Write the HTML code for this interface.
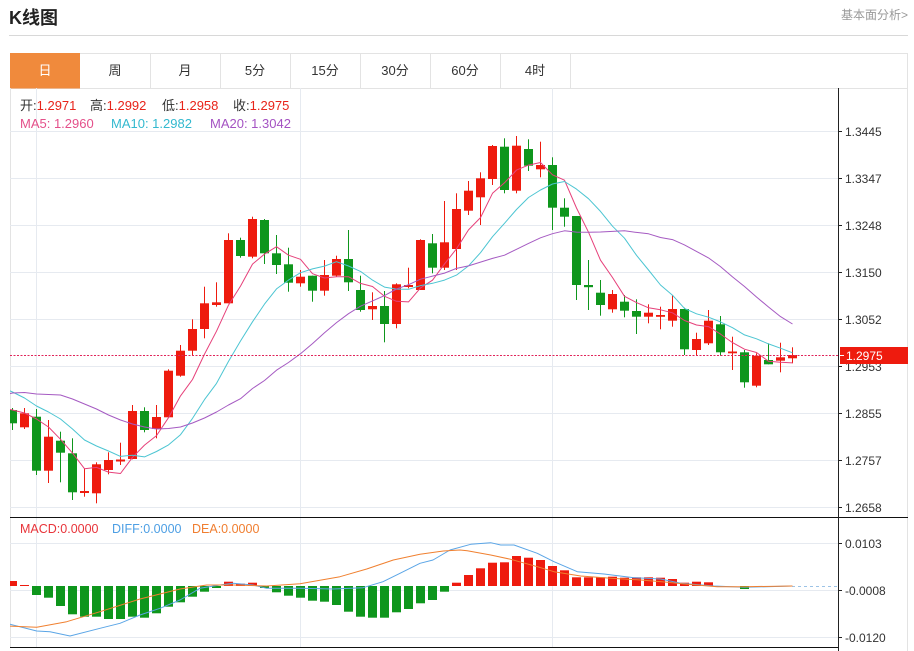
<!DOCTYPE html>
<html><head><meta charset="utf-8"><style>
html,body{margin:0;padding:0;background:#fff;}
svg{display:block;font-family:"Liberation Sans","Noto Sans CJK SC",sans-serif;}
</style></head><body>
<svg width="914" height="651" viewBox="0 0 914 651" xmlns="http://www.w3.org/2000/svg">
<defs>
<clipPath id="cp"><rect x="10" y="88" width="828" height="429"/></clipPath>
<clipPath id="cm"><rect x="10" y="518" width="828" height="129"/></clipPath>
</defs>
<rect width="914" height="651" fill="#fff"/>
<!-- header -->
<text x="9" y="24" font-size="18" font-weight="bold" fill="#222">K线图</text>
<text x="908" y="19" font-size="12" fill="#999" text-anchor="end">基本面分析&gt;</text>
<line x1="9" y1="35.5" x2="908" y2="35.5" stroke="#d8d8d8"/>
<!-- tabs -->
<rect x="10.5" y="53.5" width="897" height="35" fill="#fff" stroke="#e3e3e3"/>
<rect x="10" y="53" width="70" height="35.5" fill="#f08a3c"/>
<g stroke="#e3e3e3">
<line x1="150.5" y1="53" x2="150.5" y2="88"/><line x1="220.5" y1="53" x2="220.5" y2="88"/>
<line x1="290.5" y1="53" x2="290.5" y2="88"/><line x1="360.5" y1="53" x2="360.5" y2="88"/>
<line x1="430.5" y1="53" x2="430.5" y2="88"/><line x1="500.5" y1="53" x2="500.5" y2="88"/>
<line x1="570.5" y1="53" x2="570.5" y2="88"/>
</g>
<g font-size="13" fill="#333" text-anchor="middle">
<text x="45" y="75" fill="#fff">日</text>
<text x="115" y="75">周</text><text x="185" y="75">月</text>
<text x="255" y="75">5分</text><text x="325" y="75">15分</text>
<text x="395" y="75">30分</text><text x="465" y="75">60分</text>
<text x="535" y="75">4时</text>
</g>
<!-- chart frame -->
<line x1="10.5" y1="88" x2="10.5" y2="648" stroke="#e3e3e3"/>
<line x1="907.5" y1="88" x2="907.5" y2="651" stroke="#e3e3e3"/>
<!-- grid -->
<g stroke="#e6eaf0">
<line x1="36.5" y1="88" x2="36.5" y2="647"/>
<line x1="300.5" y1="88" x2="300.5" y2="647"/>
<line x1="552.5" y1="88" x2="552.5" y2="647"/>
<line x1="10" y1="131.5" x2="838" y2="131.5"/>
<line x1="10" y1="178.5" x2="838" y2="178.5"/>
<line x1="10" y1="225.5" x2="838" y2="225.5"/>
<line x1="10" y1="272.5" x2="838" y2="272.5"/>
<line x1="10" y1="319.5" x2="838" y2="319.5"/>
<line x1="10" y1="366.5" x2="838" y2="366.5"/>
<line x1="10" y1="413.5" x2="838" y2="413.5"/>
<line x1="10" y1="460.5" x2="838" y2="460.5"/>
<line x1="10" y1="507.5" x2="838" y2="507.5"/>
<line x1="10" y1="543.5" x2="838" y2="543.5"/>
<line x1="10" y1="590.5" x2="838" y2="590.5"/>
<line x1="10" y1="637.5" x2="838" y2="637.5"/>
</g>
<!-- legend -->
<g font-size="13">
<text x="20" y="110"><tspan fill="#333">开:</tspan><tspan fill="#e8241a">1.2971</tspan></text>
<text x="90" y="110"><tspan fill="#333">高:</tspan><tspan fill="#e8241a">1.2992</tspan></text>
<text x="162" y="110"><tspan fill="#333">低:</tspan><tspan fill="#e8241a">1.2958</tspan></text>
<text x="233" y="110"><tspan fill="#333">收:</tspan><tspan fill="#e8241a">1.2975</tspan></text>
<text x="20" y="128" fill="#e4508a">MA5: 1.2960</text>
<text x="111" y="128" fill="#33b9cf">MA10: 1.2982</text>
<text x="210" y="128" fill="#a452c2">MA20: 1.3042</text>
</g>
<!-- candles -->
<g clip-path="url(#cp)">
<g fill="#ee1b0e">
<rect x="24" y="408" width="1" height="21"/><rect x="20" y="413.3" width="9" height="14"/>
<rect x="48" y="420" width="1" height="63"/><rect x="44" y="436.7" width="9" height="34"/>
<rect x="84" y="468.3" width="1" height="28.4"/><rect x="80" y="491" width="9" height="2"/>
<rect x="96" y="462.3" width="1" height="41"/><rect x="92" y="464.3" width="9" height="29"/>
<rect x="108" y="452.3" width="1" height="22"/><rect x="104" y="460" width="9" height="10"/>
<rect x="120" y="442.7" width="1" height="22.3"/><rect x="116" y="459.5" width="9" height="2"/>
<rect x="132" y="405" width="1" height="54.3"/><rect x="128" y="411" width="9" height="48"/>
<rect x="156" y="405" width="1" height="33.3"/><rect x="152" y="417" width="9" height="12"/>
<rect x="168" y="369.3" width="1" height="48"/><rect x="164" y="370.7" width="9" height="46.6"/>
<rect x="180" y="345" width="1" height="31.7"/><rect x="176" y="350.7" width="9" height="25"/>
<rect x="192" y="319.3" width="1" height="36.4"/><rect x="188" y="329" width="9" height="21.7"/>
<rect x="204" y="286.7" width="1" height="51.6"/><rect x="200" y="303.3" width="9" height="25.7"/>
<rect x="216" y="282.3" width="1" height="24.4"/><rect x="212" y="302.3" width="9" height="2.7"/>
<rect x="228" y="233.3" width="1" height="70"/><rect x="224" y="240" width="9" height="63.3"/>
<rect x="252" y="216.7" width="1" height="41.6"/><rect x="248" y="219" width="9" height="37.7"/>
<rect x="300" y="270" width="1" height="16.7"/><rect x="296" y="276.7" width="9" height="6.6"/>
<rect x="324" y="260" width="1" height="35.7"/><rect x="320" y="275" width="9" height="15.7"/>
<rect x="336" y="255.7" width="1" height="21"/><rect x="332" y="259" width="9" height="16.7"/>
<rect x="372" y="292.3" width="1" height="27.7"/><rect x="368" y="306" width="9" height="3.3"/>
<rect x="396" y="283.3" width="1" height="45"/><rect x="392" y="284.3" width="9" height="39.7"/>
<rect x="408" y="267.7" width="1" height="20.6"/><rect x="404" y="285" width="9" height="2"/>
<rect x="420" y="239.3" width="1" height="50.7"/><rect x="416" y="240" width="9" height="50"/>
<rect x="444" y="201" width="1" height="69"/><rect x="440" y="242.3" width="9" height="25.4"/>
<rect x="456" y="193.3" width="1" height="76.7"/><rect x="452" y="209" width="9" height="40"/>
<rect x="468" y="181" width="1" height="34"/><rect x="464" y="190.7" width="9" height="20"/>
<rect x="480" y="172.3" width="1" height="52.7"/><rect x="476" y="178.3" width="9" height="19"/>
<rect x="492" y="145" width="1" height="40"/><rect x="488" y="146" width="9" height="33"/>
<rect x="516" y="136" width="1" height="57.3"/><rect x="512" y="145.7" width="9" height="45"/>
<rect x="540" y="141.7" width="1" height="35.6"/><rect x="536" y="165" width="9" height="4.3"/>
<rect x="612" y="290" width="1" height="22.7"/><rect x="608" y="294" width="9" height="15.3"/>
<rect x="648" y="304.3" width="1" height="19"/><rect x="644" y="312.7" width="9" height="4"/>
<rect x="660" y="306.7" width="1" height="22.6"/><rect x="656" y="315" width="9" height="1.8"/>
<rect x="672" y="295" width="1" height="31.7"/><rect x="668" y="309" width="9" height="11.7"/>
<rect x="696" y="332.7" width="1" height="23.3"/><rect x="692" y="339" width="9" height="11"/>
<rect x="708" y="310" width="1" height="35"/><rect x="704" y="320.7" width="9" height="22.6"/>
<rect x="732" y="336.7" width="1" height="33.3"/><rect x="728" y="351.5" width="9" height="1.8"/>
<rect x="756" y="353.3" width="1" height="34"/><rect x="752" y="355.7" width="9" height="30"/>
<rect x="780" y="342.7" width="1" height="29.6"/><rect x="776" y="357.3" width="9" height="3.4"/>
<rect x="792" y="347.3" width="1" height="16"/><rect x="788" y="355" width="9" height="3.3"/>
</g>
<g fill="#0e961c">
<rect x="12" y="408" width="1" height="22"/><rect x="8" y="410" width="9" height="13.3"/>
<rect x="36" y="409" width="1" height="66"/><rect x="32" y="416.7" width="9" height="54"/>
<rect x="60" y="431.7" width="1" height="50.6"/><rect x="56" y="440.7" width="9" height="12"/>
<rect x="72" y="438.3" width="1" height="61.7"/><rect x="68" y="453.3" width="9" height="39"/>
<rect x="144" y="407.3" width="1" height="25"/><rect x="140" y="411" width="9" height="19"/>
<rect x="240" y="237.7" width="1" height="20"/><rect x="236" y="240" width="9" height="16"/>
<rect x="264" y="219" width="1" height="45"/><rect x="260" y="220" width="9" height="33.3"/>
<rect x="276" y="235" width="1" height="39"/><rect x="272" y="253.3" width="9" height="11.7"/>
<rect x="288" y="247.7" width="1" height="44"/><rect x="284" y="264.3" width="9" height="18.4"/>
<rect x="312" y="275.7" width="1" height="26"/><rect x="308" y="275.7" width="9" height="15"/>
<rect x="348" y="230" width="1" height="61"/><rect x="344" y="259" width="9" height="23.3"/>
<rect x="360" y="275.7" width="1" height="36"/><rect x="356" y="290" width="9" height="20"/>
<rect x="384" y="291" width="1" height="51.3"/><rect x="380" y="306" width="9" height="18"/>
<rect x="432" y="234" width="1" height="39.3"/><rect x="428" y="243.3" width="9" height="24.4"/>
<rect x="504" y="138.3" width="1" height="55"/><rect x="500" y="146.7" width="9" height="43.3"/>
<rect x="528" y="139.3" width="1" height="31.7"/><rect x="524" y="149" width="9" height="16.7"/>
<rect x="552" y="157.3" width="1" height="72.7"/><rect x="548" y="165" width="9" height="42.7"/>
<rect x="564" y="198.3" width="1" height="28.4"/><rect x="560" y="207.7" width="9" height="9"/>
<rect x="576" y="216" width="1" height="84"/><rect x="572" y="216" width="9" height="69"/>
<rect x="588" y="260" width="1" height="50"/><rect x="584" y="285" width="9" height="2.2"/>
<rect x="600" y="280" width="1" height="35.7"/><rect x="596" y="292.7" width="9" height="12.3"/>
<rect x="624" y="295" width="1" height="22.3"/><rect x="620" y="301.7" width="9" height="9"/>
<rect x="636" y="299.3" width="1" height="34.7"/><rect x="632" y="311" width="9" height="5.7"/>
<rect x="684" y="307.7" width="1" height="47.3"/><rect x="680" y="309" width="9" height="40.3"/>
<rect x="720" y="316" width="1" height="39.7"/><rect x="716" y="324.3" width="9" height="28"/>
<rect x="744" y="350" width="1" height="37.7"/><rect x="740" y="352.3" width="9" height="30"/>
<rect x="768" y="343.3" width="1" height="21"/><rect x="764" y="360" width="9" height="4.3"/>
</g>
<g fill="none" stroke-width="1" stroke-linejoin="round">
<polyline stroke="#e6407a" points="0.5,407 12.5,410 24.5,413 36.5,419 48.5,427 60.5,439.3 72.5,453.1 84.5,468.7 96.5,467.4 108.5,472.1 120.5,473.5 132.5,457.3 144.5,445.1 156.5,435.6 168.5,417.7 180.5,395.9 192.5,379.5 204.5,354.1 216.5,331.2 228.5,305.1 240.5,286.1 252.5,264.1 264.5,254.1 276.5,246.7 288.5,255.2 300.5,259.3 312.5,273.7 324.5,278 336.5,276.8 348.5,276.7 360.5,283.4 372.5,286.5 384.5,296.3 396.5,301.3 408.5,301.9 420.5,287.9 432.5,280.2 444.5,263.9 456.5,248.8 468.5,229.9 480.5,217.6 492.5,193.3 504.5,182.8 516.5,170.1 528.5,165.1 540.5,162.5 552.5,174.8 564.5,180.2 576.5,208 588.5,232.2 600.5,260.2 612.5,277.5 624.5,296.3 636.5,302.6 648.5,307.8 660.5,309.8 672.5,312.8 684.5,320.5 696.5,325 708.5,326.6 720.5,334.1 732.5,342.6 744.5,349.2 756.5,352.5 768.5,361.3 780.5,362.3 792.5,362.9"/>
<polyline stroke="#4cc5d2" points="0.5,387 12.5,392 24.5,398 36.5,406 48.5,412 60.5,419 72.5,429 84.5,440 96.5,446 108.5,451 120.5,456.4 132.5,455.2 144.5,456.9 156.5,451.5 168.5,444.9 180.5,434.7 192.5,418.4 204.5,399.6 216.5,383.4 228.5,361.4 240.5,341 252.5,321.8 264.5,304.1 276.5,288.9 288.5,280.1 300.5,272.7 312.5,268.9 324.5,266.1 336.5,261.7 348.5,266 360.5,271.4 372.5,280.1 384.5,287.1 396.5,289.1 408.5,289.3 420.5,285.6 432.5,283.3 444.5,280.1 456.5,275.1 468.5,265.9 480.5,252.7 492.5,236.7 504.5,223.3 516.5,209.5 528.5,197.5 540.5,190 552.5,184 564.5,181.5 576.5,189.1 588.5,198.7 600.5,211.4 612.5,226.2 624.5,238.2 636.5,255.3 648.5,270 660.5,285 672.5,295.2 684.5,308.4 696.5,313.8 708.5,317.2 720.5,321.9 732.5,327.7 744.5,334.9 756.5,338.8 768.5,343.9 780.5,348.2 792.5,352.8"/>
<polyline stroke="#a55ac2" points="0.5,396 12.5,393 24.5,392.5 36.5,394 48.5,394.5 60.5,395 72.5,399 84.5,404 96.5,409 108.5,415 120.5,420 132.5,424 144.5,427 156.5,429 168.5,428.5 180.5,427 192.5,423 204.5,418 216.5,412 228.5,405 240.5,398.7 252.5,388.5 264.5,380.5 276.5,370.2 288.5,362.5 300.5,353.7 312.5,343.6 324.5,332.8 336.5,322.6 348.5,313.7 360.5,306.2 372.5,300.9 384.5,295.6 396.5,289 408.5,284.7 420.5,279.2 432.5,276.1 444.5,273.1 456.5,268.4 468.5,265.9 480.5,262.1 492.5,258.4 504.5,255.2 516.5,249.3 528.5,243.4 540.5,237.8 552.5,233.7 564.5,230.8 576.5,232.1 588.5,232.3 600.5,232 612.5,231.4 624.5,230.8 636.5,232.4 648.5,233.8 660.5,237.5 672.5,239.6 684.5,244.9 696.5,251.4 708.5,257.9 720.5,266.6 732.5,276.9 744.5,286.5 756.5,297 768.5,307 780.5,316.6 792.5,324"/>
</g>
</g>
<!-- last price dashed line -->
<line x1="10" y1="355.5" x2="838" y2="355.5" stroke="#e0245a" stroke-dasharray="2,1.5"/>
<!-- MACD -->
<line x1="10" y1="517.5" x2="908" y2="517.5" stroke="#111"/>
<line x1="10" y1="647.5" x2="838" y2="647.5" stroke="#111"/>
<g font-size="12.5">
<text x="20" y="533" fill="#e8343a">MACD:0.0000</text>
<text x="112" y="533" fill="#4d9fe4">DIFF:0.0000</text>
<text x="192" y="533" fill="#f07e30">DEA:0.0000</text>
</g>
<g clip-path="url(#cm)">
<line x1="792" y1="586.5" x2="838" y2="586.5" stroke="#9cc3e6" stroke-dasharray="3,3"/>
<g fill="#ee1b0e">
<rect x="8" y="581" width="9" height="5"/>
<rect x="20" y="585" width="9" height="1"/>
<rect x="224" y="581.7" width="9" height="4.3"/>
<rect x="236" y="583.7" width="9" height="2.3"/>
<rect x="248" y="582.7" width="9" height="3.3"/>
<rect x="452" y="582.7" width="9" height="3.3"/>
<rect x="464" y="575" width="9" height="11"/>
<rect x="476" y="568.3" width="9" height="17.7"/>
<rect x="488" y="562.7" width="9" height="23.3"/>
<rect x="500" y="562.3" width="9" height="23.7"/>
<rect x="512" y="556" width="9" height="30"/>
<rect x="524" y="557.7" width="9" height="28.3"/>
<rect x="536" y="560" width="9" height="26"/>
<rect x="548" y="566" width="9" height="20"/>
<rect x="560" y="570.3" width="9" height="15.7"/>
<rect x="572" y="577.3" width="9" height="8.7"/>
<rect x="584" y="577.3" width="9" height="8.7"/>
<rect x="596" y="577.3" width="9" height="8.7"/>
<rect x="608" y="576.7" width="9" height="9.3"/>
<rect x="620" y="577.7" width="9" height="8.3"/>
<rect x="632" y="577.3" width="9" height="8.7"/>
<rect x="644" y="577.3" width="9" height="8.7"/>
<rect x="656" y="577.7" width="9" height="8.3"/>
<rect x="668" y="579" width="9" height="7"/>
<rect x="680" y="582.7" width="9" height="3.3"/>
<rect x="692" y="581.7" width="9" height="4.3"/>
<rect x="704" y="582.3" width="9" height="3.7"/>
</g>
<g fill="#0e961c">
<rect x="32" y="586" width="9" height="9"/>
<rect x="44" y="586" width="9" height="11.7"/>
<rect x="56" y="586" width="9" height="20"/>
<rect x="68" y="586" width="9" height="28.3"/>
<rect x="80" y="586" width="9" height="30.7"/>
<rect x="92" y="586" width="9" height="30.7"/>
<rect x="104" y="586" width="9" height="33"/>
<rect x="116" y="586" width="9" height="33"/>
<rect x="128" y="586" width="9" height="30.7"/>
<rect x="140" y="586" width="9" height="31.7"/>
<rect x="152" y="586" width="9" height="27.3"/>
<rect x="164" y="586" width="9" height="20.7"/>
<rect x="176" y="586" width="9" height="16.3"/>
<rect x="188" y="586" width="9" height="10.7"/>
<rect x="200" y="586" width="9" height="5.7"/>
<rect x="212" y="586" width="9" height="2"/>
<rect x="260" y="586" width="9" height="2"/>
<rect x="272" y="586" width="9" height="6.3"/>
<rect x="284" y="586" width="9" height="9.7"/>
<rect x="296" y="586" width="9" height="11.7"/>
<rect x="308" y="586" width="9" height="14.7"/>
<rect x="320" y="586" width="9" height="15.7"/>
<rect x="332" y="586" width="9" height="19"/>
<rect x="344" y="586" width="9" height="25.7"/>
<rect x="356" y="586" width="9" height="30.7"/>
<rect x="368" y="586" width="9" height="31.7"/>
<rect x="380" y="586" width="9" height="31.7"/>
<rect x="392" y="586" width="9" height="26.3"/>
<rect x="404" y="586" width="9" height="23"/>
<rect x="416" y="586" width="9" height="17.3"/>
<rect x="428" y="586" width="9" height="14"/>
<rect x="440" y="586" width="9" height="5.7"/>
<rect x="740" y="586" width="9" height="3"/>
</g>
<g fill="none" stroke-width="1" stroke-linejoin="round">
<polyline stroke="#5aa5e6" points="0,621.7 36.7,631 50,631.7 70,636 100,628.3 120,623.3 140,615 160,608.3 180,600 200,588.3 220,585 233,583.3 253,585 266.7,588.3 300,588.3 333,589 363,587.7 383,581.7 400,573.3 420,563.3 433,560 450,550 470.7,544.3 490.7,542.7 500.7,545 514,545 537.3,553.3 554,561.7 577.3,571.7 604,574 634,577.7 660.7,579 680.7,583.3 714,586 744,587.3 792.5,586"/>
<polyline stroke="#f08030" points="0,625.7 36.7,627.3 66.7,621.7 100,611.7 140,599 180,589 206.7,585 233,585 266.7,586 300,583.7 340,576.7 366.7,569 393.3,560 420,554.3 443.3,551 460,550 467.3,550.7 490.7,555 510.7,559.3 537.3,566.7 554,571.7 580.7,576 610.7,578.3 640.7,580 667.3,582.3 687.3,584.3 717.3,586.7 744,586.7 792.5,586"/>
</g>
</g>
<!-- right axis -->
<line x1="838.5" y1="88" x2="838.5" y2="651" stroke="#222"/>
<g stroke="#222">
<line x1="838" y1="131.5" x2="842" y2="131.5"/><line x1="838" y1="178.5" x2="842" y2="178.5"/>
<line x1="838" y1="225.5" x2="842" y2="225.5"/><line x1="838" y1="272.5" x2="842" y2="272.5"/>
<line x1="838" y1="319.5" x2="842" y2="319.5"/><line x1="838" y1="366.5" x2="842" y2="366.5"/>
<line x1="838" y1="413.5" x2="842" y2="413.5"/><line x1="838" y1="460.5" x2="842" y2="460.5"/>
<line x1="838" y1="507.5" x2="842" y2="507.5"/>
<line x1="838" y1="543.5" x2="842" y2="543.5"/><line x1="838" y1="590.5" x2="842" y2="590.5"/>
<line x1="838" y1="637.5" x2="842" y2="637.5"/>
</g>
<g font-size="12" fill="#333">
<text x="845" y="136">1.3445</text>
<text x="845" y="183">1.3347</text>
<text x="845" y="230">1.3248</text>
<text x="845" y="277">1.3150</text>
<text x="845" y="324">1.3052</text>
<text x="845" y="371">1.2953</text>
<text x="845" y="418">1.2855</text>
<text x="845" y="465">1.2757</text>
<text x="845" y="512">1.2658</text>
<text x="845" y="548">0.0103</text>
<text x="845" y="595">-0.0008</text>
<text x="845" y="642">-0.0120</text>
</g>
<rect x="840" y="347" width="68" height="17" fill="#ee1b0e"/>
<line x1="840" y1="355.5" x2="844" y2="355.5" stroke="#fff"/>
<text x="846" y="360" font-size="12" fill="#fff">1.2975</text>
</svg>
</body></html>
